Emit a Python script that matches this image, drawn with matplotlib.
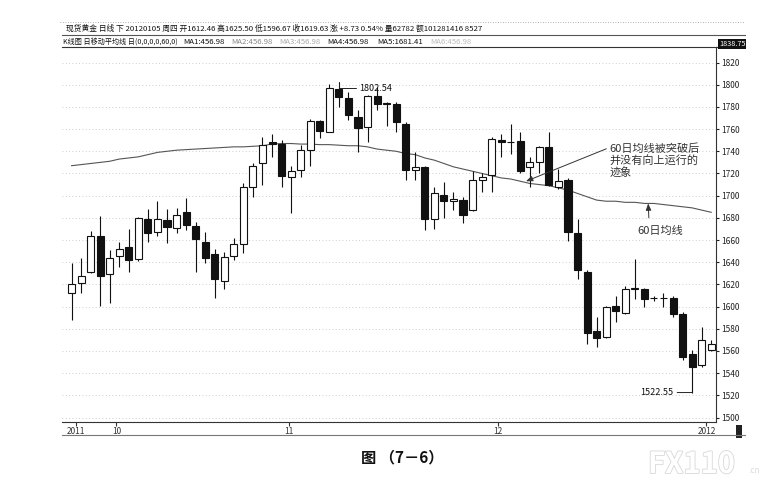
import matplotlib.pyplot as plt
from matplotlib.patches import Rectangle
from matplotlib.lines import Line2D
import matplotlib.patheffects as pe

plt.rcParams['font.family'] = ['Noto Sans CJK SC', 'DejaVu Sans']

# 日K线数据
opens = [1612, 1621, 1631, 1664, 1629, 1646, 1654, 1643, 1679, 1667,
         1678, 1671, 1685, 1673, 1658, 1647, 1623, 1646, 1656, 1708,
         1729, 1748, 1747, 1717, 1723, 1741, 1767, 1757, 1796, 1788,
         1771, 1762, 1790, 1783, 1783, 1765, 1723, 1726, 1679, 1701,
         1695, 1696, 1687, 1714, 1719, 1750, 1748, 1749, 1726, 1730,
         1744, 1708, 1714, 1666, 1631, 1578, 1573, 1601, 1594, 1616,
         1616, 1607.5, 1607.5, 1608, 1593, 1557, 1547, 1561]
highs = [1639, 1644, 1668, 1682, 1651, 1658, 1670, 1681, 1688, 1695,
         1688, 1689, 1698, 1676, 1667, 1652, 1649, 1662, 1711, 1729,
         1753, 1756, 1750, 1727, 1746, 1769, 1768, 1801, 1802.54, 1793,
         1777, 1791, 1798, 1784, 1784, 1766, 1739, 1727, 1708, 1712,
         1703, 1699, 1722, 1720, 1753, 1756, 1765, 1757, 1735, 1745,
         1757, 1724, 1716, 1679, 1633, 1591, 1601, 1610, 1619, 1643,
         1617, 1610, 1612, 1610, 1595, 1561, 1582, 1570]
lows = [1588, 1612, 1630, 1601, 1603, 1636, 1631, 1641, 1658, 1664,
        1657, 1666, 1669, 1631, 1639, 1608, 1616, 1642, 1648, 1699,
        1710, 1735, 1708, 1684, 1717, 1727, 1752, 1757, 1780, 1768,
        1739, 1748, 1777, 1763, 1757, 1714, 1714, 1669, 1670, 1680,
        1687, 1675, 1686, 1703, 1703, 1735, 1738, 1720, 1708, 1720,
        1709, 1706, 1659, 1625, 1566, 1564, 1572, 1586, 1593, 1607,
        1600, 1605, 1600, 1591, 1552, 1522.55, 1546, 1560]
closes = [1620, 1628, 1664, 1628, 1644, 1652, 1642, 1680, 1666, 1679,
          1672, 1683, 1674, 1661, 1644, 1625, 1645, 1656, 1708, 1727,
          1746, 1747, 1718, 1722, 1741, 1767, 1758, 1797, 1789, 1773,
          1761, 1790, 1783, 1783, 1766, 1723, 1726, 1679, 1702, 1695,
          1697, 1683, 1714, 1717, 1751, 1748, 1748, 1722, 1730, 1744,
          1710, 1713, 1667, 1633, 1576, 1572, 1600, 1596, 1616, 1616,
          1607, 1607.5, 1607.5, 1593, 1555, 1546, 1570, 1566]
# 60日均线
ma60 = [1727, 1728, 1729, 1730, 1731, 1733, 1734, 1735, 1737, 1739,
        1740, 1741, 1741.5, 1742, 1742.5, 1743, 1743.5, 1744, 1744, 1744.5,
        1745, 1746.5, 1747, 1747, 1746.5, 1746.5, 1746, 1746, 1745.5, 1745,
        1745, 1744, 1742, 1741, 1740, 1738, 1737, 1734, 1732, 1729,
        1726, 1724, 1722, 1720, 1718, 1716, 1715, 1713, 1711, 1710,
        1709, 1707, 1705, 1702, 1699, 1696, 1695, 1695, 1694, 1694,
        1693, 1693, 1692, 1691, 1690, 1689, 1687, 1685]

date_pos = [0.5, 4.7, 22.8, 44.7, 66.5]
date_labels = ['2011', '10', '11', '12', '2012']
price_ticks = list(range(1500, 1821, 20))

W, H = 780, 486
fig = plt.figure(figsize=(7.8, 4.86), dpi=100)
fig.patch.set_facecolor('white')


def fx(px):
    return px / W


def fy(py):
    return 1 - py / H


ax = fig.add_axes([fx(62), fy(422), fx(716) - fx(62), fy(47) - fy(422)])
ax.set_xlim(-1.0, 67.5)
ax.set_ylim(1496, 1834)

# 网格
for p in price_ticks:
    ax.axhline(p, color='#bdbdbd', lw=0.6, ls=(0, (1, 3)), zorder=0)

# K线
bw = 0.74
for i in range(len(opens)):
    o, h, l, c = opens[i], highs[i], lows[i], closes[i]
    ax.vlines(i, l, h, color='#111111', lw=0.8, zorder=2)
    lo = min(o, c)
    hgt = max(abs(c - o), 0.6)
    fc = 'white' if c >= o else '#111111'
    ax.add_patch(Rectangle((i - bw / 2, lo), bw, hgt, facecolor=fc,
                           edgecolor='#111111', lw=0.8, zorder=3))

# 60日均线
ax.plot(range(len(ma60)), ma60, color='#555555', lw=0.8, zorder=1)

# 标注
ax.annotate('1802.54', xy=(28, highs[28]), xytext=(30.1, 1797),
            fontsize=6.5, va='center', ha='left', color='#111111',
            arrowprops=dict(arrowstyle='-', color='#222222', lw=0.7,
                            shrinkA=0, shrinkB=0,
                            connectionstyle='angle,angleA=0,angleB=90,rad=0'))
ax.annotate('1522.55', xy=(65, lows[65]), xytext=(63.0, 1522.5),
            fontsize=6.5, va='center', ha='right', color='#111111',
            arrowprops=dict(arrowstyle='-', color='#222222', lw=0.7,
                            shrinkA=1, shrinkB=0))
ax.annotate('60日均线被突破后\n并没有向上运行的\n迹象', xy=(47.6, 1713),
            xytext=(56.3, 1747), fontsize=8, va='top', ha='left',
            color='#333333', linespacing=1.12,
            arrowprops=dict(arrowstyle='-|>,head_length=0.5,head_width=0.2',
                            color='#333333', lw=0.7, shrinkA=0, shrinkB=0,
                            relpos=(0, 0.88)))
ax.annotate('60日均线', xy=(60.4, 1693), xytext=(61.7, 1668),
            fontsize=8, va='center', ha='center', color='#333333',
            arrowprops=dict(arrowstyle='-|>,head_length=0.5,head_width=0.2',
                            color='#333333', lw=0.7, shrinkA=4, shrinkB=0,
                            relpos=(0.25, 1)))

# 坐标轴
ax.yaxis.tick_right()
ax.set_yticks(price_ticks)
ax.set_yticklabels([str(p) for p in price_ticks])
ax.tick_params(axis='y', labelsize=6, length=2, pad=1.5, colors='#222222')
ax.set_xticks(date_pos)
ax.set_xticklabels(date_labels)
ax.tick_params(axis='x', labelsize=6, length=3, pad=0.5, colors='#333333')
ax.spines['left'].set_visible(False)
for s in ['top', 'right', 'bottom']:
    ax.spines[s].set_linewidth(0.8)
    ax.spines[s].set_color('#333333')

# 顶部信息栏
fig.add_artist(Line2D([fx(60), fx(745)], [fy(22), fy(22)], color='#999999',
                      lw=0.6, ls=(0, (1, 2))))
fig.add_artist(Line2D([fx(62), fx(745)], [fy(35.5), fy(35.5)], color='#555555', lw=0.8))
fig.add_artist(Line2D([fx(716), fx(745)], [fy(47), fy(47)], color='#333333', lw=0.8))
fig.add_artist(Line2D([fx(62), fx(745)], [fy(435), fy(435)], color='#777777', lw=0.8))

fig.text(fx(66), fy(28.5),
         '现货黄金 日线 下 20120105 周四 开1612.46 高1625.50 低1596.67 收1619.63 '
         '涨 +8.73 0.54% 量62782 额101281416 8527',
         fontsize=5.6, va='center', ha='left', color='#111111')
header2 = [('K线图 日移动平均线 日(0,0,0,0,60,0)', 63, '#111111', 5.1),
           ('MA1:456.98', 183, '#111111', 5.6),
           ('MA2:456.98', 231, '#888888', 5.6),
           ('MA3:456.98', 279, '#aaaaaa', 5.6),
           ('MA4:456.98', 327, '#111111', 5.6),
           ('MA5:1681.41', 377, '#111111', 5.6),
           ('MA6:456.98', 430, '#bbbbbb', 5.6)]
for txt, px, col, fs in header2:
    fig.text(fx(px), fy(41.5), txt, fontsize=fs, va='center', ha='left', color=col)

fig.text(fx(719), fy(44), '1838.75', fontsize=5.2, va='center', ha='left',
         color='white', bbox=dict(facecolor='#111111', edgecolor='none', pad=0.8))
fig.add_artist(Rectangle((fx(736), fy(438)), fx(6), fy(425) - fy(438),
                         facecolor='#222222', edgecolor='none'))

# 图题
fig.text(fx(402), fy(457), '图 （7－6）', fontsize=11, fontweight='bold',
         va='center', ha='center', color='#111111')

# 水印
wm = fig.text(fx(648), fy(464), 'FX110', fontsize=21, va='center', ha='left',
              color='white', fontweight='bold')
wm.set_path_effects([pe.withStroke(linewidth=1.2, foreground='#d8d8d8')])
fig.text(fx(748), fy(470), '.cn', fontsize=6, va='center', ha='left', color='#dddddd')

fig.savefig('out.png', dpi=100)
